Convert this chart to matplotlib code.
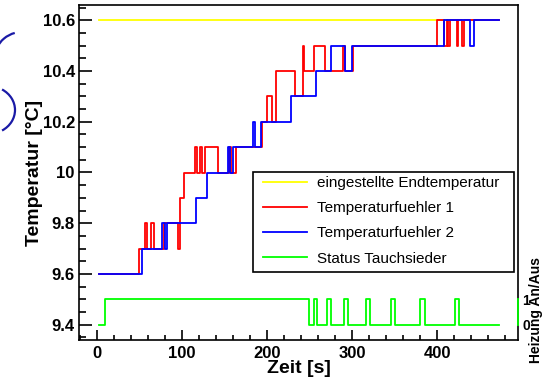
import matplotlib
matplotlib.use('Agg')
import matplotlib.pyplot as plt
from matplotlib.patches import Arc, Rectangle
from matplotlib.transforms import IdentityTransform
from matplotlib.ticker import MultipleLocator, FormatStrFormatter

plt.rcParams['font.family'] = ['Liberation Sans', 'DejaVu Sans']
plt.rcParams['font.weight'] = 'bold'
plt.rcParams['axes.labelweight'] = 'bold'

# eingestellte Endtemperatur
soll_t = [3, 473]
soll_T = [10.6, 10.6]

# Temperaturfuehler 1 (Zeitpunkte der Aenderung, neuer Wert)
t1 = [3, 50, 56.5, 58.5, 64, 67, 79, 95.5, 97.5, 102.5, 115, 118, 121, 124, 127,
      142.5, 155, 158, 164, 194, 199.5, 205.5, 211, 233, 242, 244, 255.5, 268,
      289, 292, 301, 400, 408, 411, 413, 415, 423, 425, 429, 431, 473]
T1 = [9.6, 9.7, 9.8, 9.7, 9.8, 9.7, 9.8, 9.7, 9.9, 10.0, 10.1, 10.0, 10.1, 10.0, 10.1,
      10.0, 10.1, 10.0, 10.1, 10.2, 10.3, 10.2, 10.4, 10.3, 10.5, 10.4, 10.5, 10.4,
      10.5, 10.4, 10.5, 10.6, 10.5, 10.6, 10.5, 10.6, 10.5, 10.6, 10.5, 10.6, 10.6]

# Temperaturfuehler 2
t2 = [3, 52.5, 77, 80, 82.5, 116.5, 130, 154, 157, 160, 183.5, 186, 193, 228,
      257, 275, 292, 300, 407.5, 439, 443, 473]
T2 = [9.6, 9.7, 9.8, 9.7, 9.8, 9.9, 10.0, 10.1, 10.0, 10.1, 10.2, 10.1, 10.2, 10.3,
      10.4, 10.5, 10.4, 10.5, 10.6, 10.5, 10.6, 10.6]

# Status Tauchsieder (0 = aus, 1 = an)
t_heiz = [3, 9.5, 249.5, 255, 258.5, 270.5, 275.5, 290, 295.5, 316, 320.5,
          346, 350.5, 380, 385.5, 420.5, 425.5, 473]
heiz = [0, 1, 0, 1, 0, 1, 0, 1, 0, 1, 0, 1, 0, 1, 0, 1, 0, 0]

labels = ['eingestellte Endtemperatur', 'Temperaturfuehler 1',
          'Temperaturfuehler 2', 'Status Tauchsieder']

fig = plt.figure(figsize=(5.5, 3.8), dpi=100)
ax = fig.add_axes([79/550, 40/380, 439/550, 335/380])

h0, = ax.plot(soll_t, soll_T, color='#ffff00', lw=1.3, drawstyle='steps-post')
h1, = ax.plot(t1, T1, color='#ff0000', lw=1.3, drawstyle='steps-post')
h2, = ax.plot(t2, T2, color='#0000ff', lw=1.3, drawstyle='steps-post')

ymin, ymax = 9.34, 10.66
ax.set_xlim(-21, 495)
ax.set_ylim(ymin, ymax)
ax.xaxis.set_major_locator(MultipleLocator(100))
ax.xaxis.set_minor_locator(MultipleLocator(20))
ax.yaxis.set_major_locator(MultipleLocator(0.2))
ax.yaxis.set_minor_locator(MultipleLocator(0.05))
ax.yaxis.set_major_formatter(FormatStrFormatter('%g'))
ax.tick_params(axis='both', which='both', direction='in', width=1.2, labelsize=12)
ax.tick_params(axis='y', which='major', length=9.4, pad=3)
ax.tick_params(axis='y', which='minor', length=4.7)
ax.tick_params(axis='x', which='major', length=7.2, pad=4)
ax.tick_params(axis='x', which='minor', length=3.6)
for s in ax.spines.values():
    s.set_linewidth(1.2)

ax.set_xlabel('Zeit [s]', fontsize=14, fontweight='bold')
ax.set_ylabel('Temperatur [°C]', fontsize=14, fontweight='bold')
ax.xaxis.set_label_coords(0.5, -0.06)
ax.yaxis.set_label_coords(-0.082, 0.5)

# zweite Achse fuer den Heizungsstatus
ax2 = ax.twinx()
ax2.set_ylim((ymin - 9.4) / 0.1, (ymax - 9.4) / 0.1)
h3, = ax2.plot(t_heiz, heiz, color='#00ff00', lw=1.3, drawstyle='steps-post')
ax2.set_yticks([0, 1])
ax2.tick_params(axis='y', length=0, labelsize=10, pad=3)
for k in ['top', 'left', 'bottom']:
    ax2.spines[k].set_visible(False)
ax2.spines['right'].set_bounds(0, 1)
ax2.spines['right'].set_color('#00ff00')
ax2.spines['right'].set_linewidth(1.3)
fig.text(536/550, 1 - 310/380, 'Heizung An/Aus', rotation=90, ha='center',
         va='center', fontsize=10, fontweight='bold')

# Legende mit eigenem Rahmen
ax2.add_patch(Rectangle((0.396, 0.203), 0.595, 0.298, transform=ax2.transAxes,
                        facecolor='white', edgecolor='black', lw=1.2, zorder=4))
leg = ax2.legend([h0, h1, h2, h3], labels, loc='upper left',
                 bbox_to_anchor=(0.419, 0.49), borderaxespad=0, borderpad=0,
                 frameon=False, prop={'weight': 'normal', 'size': 11},
                 handlelength=2.9, handletextpad=0.65, labelspacing=0.74)
leg.set_zorder(5)

# blaue Boegen am linken Rand
fig.add_artist(Arc((22, 320), 56, 56, theta1=105, theta2=155, color='#1a1aa6',
                   lw=1.6, transform=IdentityTransform()))
fig.add_artist(Arc((-11.8, 270), 53.6, 48, theta1=-56, theta2=56, color='#1a1aa6',
                   lw=1.6, transform=IdentityTransform()))

fig.savefig('out.png', dpi=100)
